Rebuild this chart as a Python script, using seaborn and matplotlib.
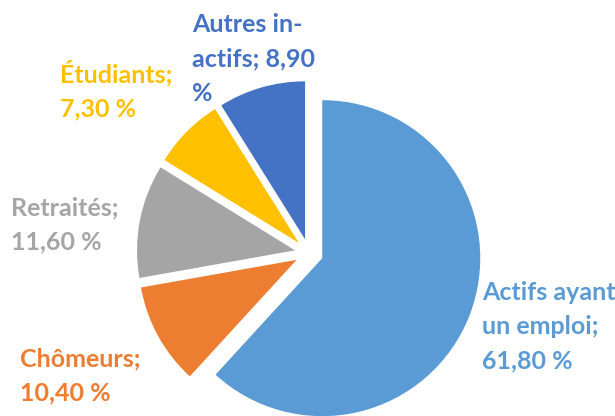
import matplotlib
matplotlib.use("Agg")
import matplotlib.pyplot as plt
import seaborn as sns

categories = ["Actifs ayant un emploi", "Chômeurs", "Retraités", "Étudiants", "Autres inactifs"]
values = [61.80, 10.40, 11.60, 7.30, 8.90]
label_texts = [
    "Actifs ayant\nun emploi;\n61,80 %",
    "Chômeurs;\n10,40 %",
    "Retraités;\n11,60 %",
    "Étudiants;\n7,30 %",
    "Autres in-\nactifs; 8,90\n%",
]
colors = ["#5B9BD5", "#ED7D31", "#A5A5A5", "#FFC000", "#4472C4"]

sns.set_theme(style="white")
plt.rcParams["font.family"] = ["Lato", "DejaVu Sans"]

W, H = 615, 416
fig = plt.figure(figsize=(W / 100, H / 100), dpi=100)
ax = fig.add_axes([0, 0, 1, 1])

# pie geometry in pixels
cx, cy, r = 309, 253, 158

ax.pie(
    values,
    colors=colors,
    startangle=90,
    counterclock=False,
    explode=[0.09] * len(values),
    radius=1.0,
    wedgeprops=dict(linewidth=0),
)

ax.set_xlim((0 - cx) / r, (W - cx) / r)
ax.set_ylim((cy - H) / r, (cy - 0) / r)
ax.set_aspect("equal")
ax.axis("off")

# label anchors (left edge, vertical centre of the block) in pixels
label_pos = [(482, 327), (20, 376), (11, 225), (60, 90), (192, 59)]
for text, color, (px, py) in zip(label_texts, colors, label_pos):
    ax.text(
        (px - cx) / r, (cy - py) / r, text,
        ha="left", va="center", color=color,
        fontsize=18, fontweight="bold", linespacing=1.6,
    )

fig.savefig("out.png", dpi=100)
